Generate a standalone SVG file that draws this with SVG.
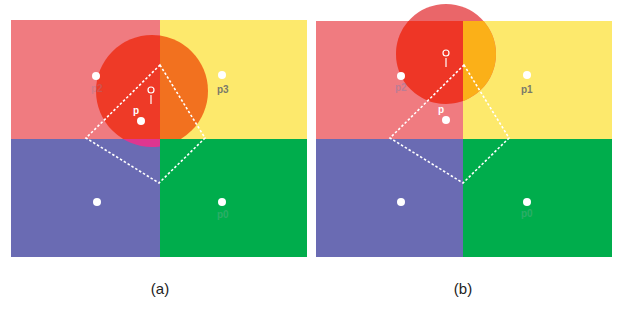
<svg xmlns="http://www.w3.org/2000/svg" width="625" height="323" viewBox="0 0 625 323">
<style>
.pk{fill:#f07b80}.ye{fill:#fde96c}.bl{fill:#6a6bb3}.gr{fill:#00ad4c}
.dash{fill:none;stroke:#ffffff;stroke-width:1.6;stroke-dasharray:2.5 2}
.dot{fill:#ffffff}
.lbl{font-family:"Liberation Sans",Arial,sans-serif;font-size:10px;font-weight:bold}
.cap{font-family:"Liberation Sans",Arial,sans-serif;font-size:15px;fill:#222}
.mk{fill:none;stroke:#ffffff;stroke-width:1.2}
</style>
<defs>
<clipPath id="aTL"><rect x="11" y="20" width="149" height="119"/></clipPath>
<clipPath id="aTR"><rect x="160" y="20" width="147" height="119"/></clipPath>
<clipPath id="aBL"><rect x="11" y="139" width="149" height="118"/></clipPath>
<clipPath id="bTL"><rect x="316" y="21" width="147" height="118"/></clipPath>
<clipPath id="bTR"><rect x="463" y="21" width="149" height="118"/></clipPath>
</defs>
<g id="panel-a">
<rect class="pk" x="11" y="20" width="149" height="119"/>
<rect class="ye" x="160" y="20" width="147" height="119"/>
<rect class="bl" x="11" y="139" width="149" height="118"/>
<rect class="gr" x="160" y="139" width="147" height="118"/>
<circle cx="152" cy="91" r="56" fill="#ee3a27" clip-path="url(#aTL)"/>
<circle cx="152" cy="91" r="56" fill="#f2711f" clip-path="url(#aTR)"/>
<circle cx="152" cy="91" r="56" fill="#de3690" clip-path="url(#aBL)"/>
</g>
<g id="panel-b">
<rect class="pk" x="316" y="21" width="147" height="118"/>
<rect class="ye" x="463" y="21" width="149" height="118"/>
<rect class="bl" x="316" y="139" width="147" height="118"/>
<rect class="gr" x="463" y="139" width="149" height="118"/>
<circle cx="446" cy="54" r="50" fill="#ea6669"/>
<circle cx="446" cy="54" r="50" fill="#ee3626" clip-path="url(#bTL)"/>
<circle cx="446" cy="54" r="50" fill="#fbb018" clip-path="url(#bTR)"/>
</g>
<g id="connectors">
<polygon class="dash" points="160,65 205,138 159,183 86,138"/>
<polygon class="dash" points="464,65 509,138 463,183 390,138"/>
</g>
<g id="points-a">
<circle class="dot" cx="96" cy="76" r="4"/>
<text class="lbl" x="91" y="92" fill="#9a7f9a" opacity="0.35">p2</text>
<circle class="dot" cx="222" cy="75" r="4"/>
<text class="lbl" x="217" y="93" fill="#7a7a6a">p3</text>
<circle class="dot" cx="141" cy="121" r="4"/>
<text class="lbl" x="133" y="114" fill="#ffffff">p</text>
<circle class="mk" cx="151" cy="90" r="3"/>
<line class="mk" x1="151" y1="95" x2="151" y2="104"/>
<circle class="dot" cx="97" cy="202" r="4"/>
<circle class="dot" cx="222" cy="202" r="4"/>
<text class="lbl" x="217" y="218" fill="#5fae88" opacity="0.45">p0</text>
</g>
<g id="points-b">
<circle class="dot" cx="401" cy="76" r="4"/>
<text class="lbl" x="395" y="91" fill="#8a7fa8" opacity="0.5">p2</text>
<circle class="dot" cx="527" cy="75" r="4"/>
<text class="lbl" x="521" y="93" fill="#7a7a6a">p1</text>
<circle class="dot" cx="446" cy="120" r="4"/>
<text class="lbl" x="438" y="113" fill="#ffffff">p</text>
<circle class="mk" cx="446" cy="53" r="3"/>
<line class="mk" x1="446" y1="58" x2="446" y2="67"/>
<circle class="dot" cx="401" cy="202" r="4"/>
<circle class="dot" cx="527" cy="202" r="4"/>
<text class="lbl" x="521" y="217" fill="#5fae88" opacity="0.45">p0</text>
</g>
<text class="cap" x="160" y="294" text-anchor="middle">(a)</text>
<text class="cap" x="463" y="294" text-anchor="middle">(b)</text>
</svg>
